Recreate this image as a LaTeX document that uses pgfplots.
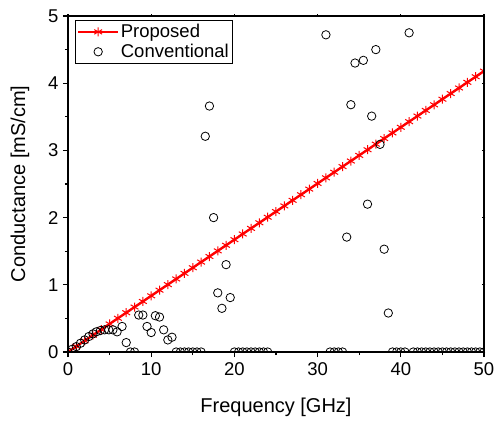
\documentclass[border=0pt]{standalone}
\usepackage{pgfplots}
\pgfplotsset{compat=1.18}
\usepackage{fontspec}
\setmainfont{Liberation Sans}
\begin{document}
\begin{tikzpicture}
\useasboundingbox (0pt,0pt) rectangle (498pt,421pt);
\begin{axis}[
  at={(68pt,69pt)}, anchor=south west,
  width=416pt, height=336pt, scale only axis,
  xmin=0, xmax=50, ymin=0, ymax=5,
  xtick={0,10,20,30,40,50}, minor xtick={5,15,25,35,45},
  ytick={0,1,2,3,4,5}, minor ytick={0.5,1.5,2.5,3.5,4.5},
  xtick pos=lower, ytick pos=left,
  tick align=outside,
  major tick length=5pt, minor tick length=3pt,
  every tick/.style={black, line width=1.2pt},
  axis line style={line width=1.5pt},
  /pgf/number format/assume math mode=true,
  tick label style={font=\fontsize{18.5}{21}\selectfont},
  label style={font=\fontsize{20}{23}\selectfont},
  xlabel={Frequency [GHz]},
  ylabel={Conductance [mS/cm]},
  xlabel style={at={(axis description cs:0.5,0)}, anchor=center, yshift=-55pt},
  ylabel style={at={(axis description cs:0,0.5)}, anchor=center, yshift=48pt},
  xticklabel style={yshift=-2pt},
  yticklabel style={xshift=-1pt},
  axis on top,
  clip marker paths=true,
  legend style={at={(axis cs:0.85,4.94)}, anchor=north west, draw=black, line width=0.8pt,
    font=\fontsize{18.5}{21}\selectfont, inner sep=2pt, row sep=1pt, cells={anchor=west}},
  legend cell align=left,
]
\addplot[red, line width=2.4pt, mark=asterisk, mark size=4.5pt, mark options={line width=1pt, draw=red},
  legend image code/.code={
    \draw[mark repeat=2, mark phase=2, line width=1.4pt] plot coordinates {(0pt,0pt) (20pt,0pt) (40pt,0pt)};
  }]
coordinates {
(0,0.000) (1,0.084) (2,0.167) (3,0.251) (4,0.334) (5,0.418) (6,0.502) (7,0.585) (8,0.669) (9,0.752)
(10,0.836) (11,0.920) (12,1.003) (13,1.087) (14,1.170) (15,1.254) (16,1.338) (17,1.421) (18,1.505) (19,1.588)
(20,1.672) (21,1.756) (22,1.839) (23,1.923) (24,2.006) (25,2.090) (26,2.174) (27,2.257) (28,2.341) (29,2.424)
(30,2.508) (31,2.592) (32,2.675) (33,2.759) (34,2.842) (35,2.926) (36,3.010) (37,3.093) (38,3.177) (39,3.260)
(40,3.344) (41,3.428) (42,3.511) (43,3.595) (44,3.678) (45,3.762) (46,3.846) (47,3.929) (48,4.013) (49,4.096)
(50,4.180)
};
\addlegendentry{Proposed}
\addplot[only marks, black, mark=o, mark size=4.2pt, mark options={fill=white, line width=0.8pt},
  legend image code/.code={
    \draw[mark options={fill=white, line width=0.8pt}] plot coordinates {(20pt,0pt)};
  }]
coordinates {
(0,0) (0.5,0.04) (1.0,0.08) (1.5,0.13) (2.0,0.18) (2.5,0.23) (3.0,0.27) (3.4,0.30) (3.9,0.32)
(4.4,0.33) (4.9,0.33) (5.4,0.33) (5.9,0.30) (6.5,0.38) (7.0,0.14) (7.5,0) (8.0,0)
(8.5,0.55) (9.0,0.55) (9.5,0.38) (10.0,0.29) (10.5,0.54) (11.0,0.52) (11.5,0.33) (12.0,0.18) (12.5,0.22)
(13.0,0) (13.5,0) (14.0,0) (14.5,0) (15.0,0) (15.5,0) (16.0,0)
(16.5,3.21) (17.0,3.66) (17.5,2.00) (18.0,0.88) (18.5,0.65) (19.0,1.30) (19.5,0.81)
(20.0,0) (20.5,0) (21.0,0) (21.5,0) (22.0,0) (22.5,0) (23.0,0) (23.5,0) (24.0,0)
(31.0,4.72) (31.5,0) (32.0,0) (32.5,0) (33.0,0)
(33.5,1.71) (34.0,3.68) (34.5,4.30) (35.5,4.34) (36.0,2.20) (36.5,3.51) (37.0,4.50) (37.5,3.09) (38.0,1.53) (38.5,0.58)
(39.0,0) (39.5,0) (40.0,0) (40.5,0)
(41.0,4.75)
(41.5,0) (42.0,0) (42.5,0) (43.0,0) (43.5,0) (44.0,0) (44.5,0) (45.0,0) (45.5,0) (46.0,0)
(46.5,0) (47.0,0) (47.5,0) (48.0,0) (48.5,0) (49.0,0) (49.5,0) (50.0,0)
};
\addlegendentry{Conventional}
\end{axis}
\begin{axis}[
  at={(68pt,69pt)}, anchor=south west,
  width=416pt, height=336pt, scale only axis,
  xmin=0, xmax=50, ymin=0, ymax=5,
  xtick={0,10,20,30,40,50}, minor xtick={5,15,25,35,45},
  ytick={0,1,2,3,4,5}, minor ytick={0.5,1.5,2.5,3.5,4.5},
  xtick pos=upper, ytick pos=right,
  tick align=center,
  major tick length=3pt, minor tick length=2pt,
  every tick/.style={black, line width=1.2pt},
  axis line style={line width=1.5pt},
  xticklabels={}, yticklabels={},
]
\end{axis}
\end{tikzpicture}
\end{document}
